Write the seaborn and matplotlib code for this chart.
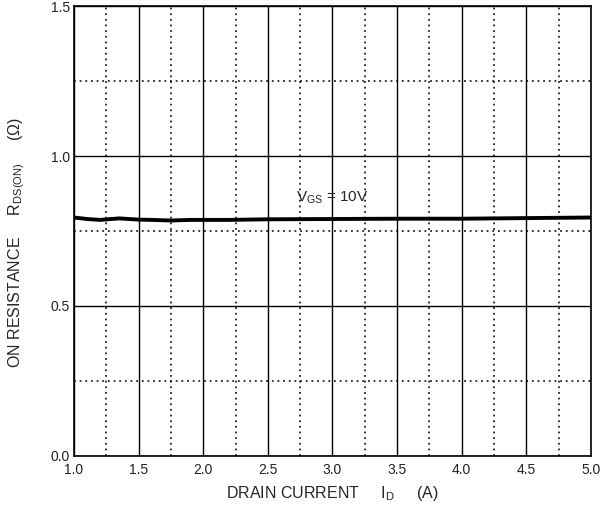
import matplotlib
matplotlib.use("Agg")
import matplotlib.pyplot as plt
from matplotlib.ticker import MultipleLocator
import seaborn as sns
import pandas as pd

# On-resistance vs drain current at VGS = 10 V
drain_current = [1.0, 1.1, 1.2, 1.35, 1.5, 1.6, 1.75, 1.9, 2.2, 2.5, 3.0, 3.5, 4.0, 4.5, 5.0]
r_ds_on = [0.795, 0.790, 0.787, 0.792, 0.788, 0.787, 0.785, 0.787, 0.787, 0.789, 0.790, 0.791, 0.791, 0.793, 0.795]

x_ticks = [1.0, 1.5, 2.0, 2.5, 3.0, 3.5, 4.0, 4.5, 5.0]
y_ticks = [0.0, 0.5, 1.0, 1.5]

sns.set_theme(style="white")
plt.rcParams["font.family"] = ["Liberation Sans", "DejaVu Sans"]
plt.rcParams["mathtext.fontset"] = "custom"
plt.rcParams["mathtext.rm"] = "Liberation Sans"
plt.rcParams["mathtext.it"] = "Liberation Sans"

df = pd.DataFrame({"ID": drain_current, "RDS": r_ds_on})

fig = plt.figure(figsize=(6.0, 5.15), dpi=100)
ax = fig.add_axes([0.1233, 0.1146, 0.8617, 0.8737])

ax.set_xlim(1.0, 5.0)
ax.set_ylim(0.0, 1.5)
ax.xaxis.set_minor_locator(MultipleLocator(0.25))
ax.yaxis.set_minor_locator(MultipleLocator(0.25))
ax.set_xticks(x_ticks)
ax.set_yticks(y_ticks)
ax.set_xticklabels([f"{v:.1f}" for v in x_ticks])
ax.set_yticklabels([f"{v:.1f}" for v in y_ticks])

ax.grid(which="major", color="black", linestyle="-", linewidth=1.0)
ax.grid(which="minor", color="black", linestyle=(0, (1.2, 2.5)), linewidth=1.1)
ax.set_axisbelow(True)

sns.lineplot(data=df, x="ID", y="RDS", ax=ax, color="black", linewidth=2.8)

for s in ax.spines.values():
    s.set_color("black")
    s.set_linewidth(1.2)

ax.tick_params(which="both", length=0, labelsize=10, colors="#222222")
ax.tick_params(axis="x", pad=5)
ax.tick_params(axis="y", pad=3)

ax.set_xlabel(r"DRAIN CURRENT     I$_{\mathregular{D}}$     (A)", fontsize=11.5, labelpad=5)
ax.set_ylabel(r"ON RESISTANCE     R$_{\mathregular{DS(ON)}}$     ($\Omega$)", fontsize=11.5)
ax.yaxis.set_label_coords(-0.091, 0.475)

ax.text(3.0, 0.86, r"V$_{\mathregular{GS}}$ = 10V", ha="center", va="center", fontsize=11)

fig.savefig("out.png", dpi=100, facecolor="white")
